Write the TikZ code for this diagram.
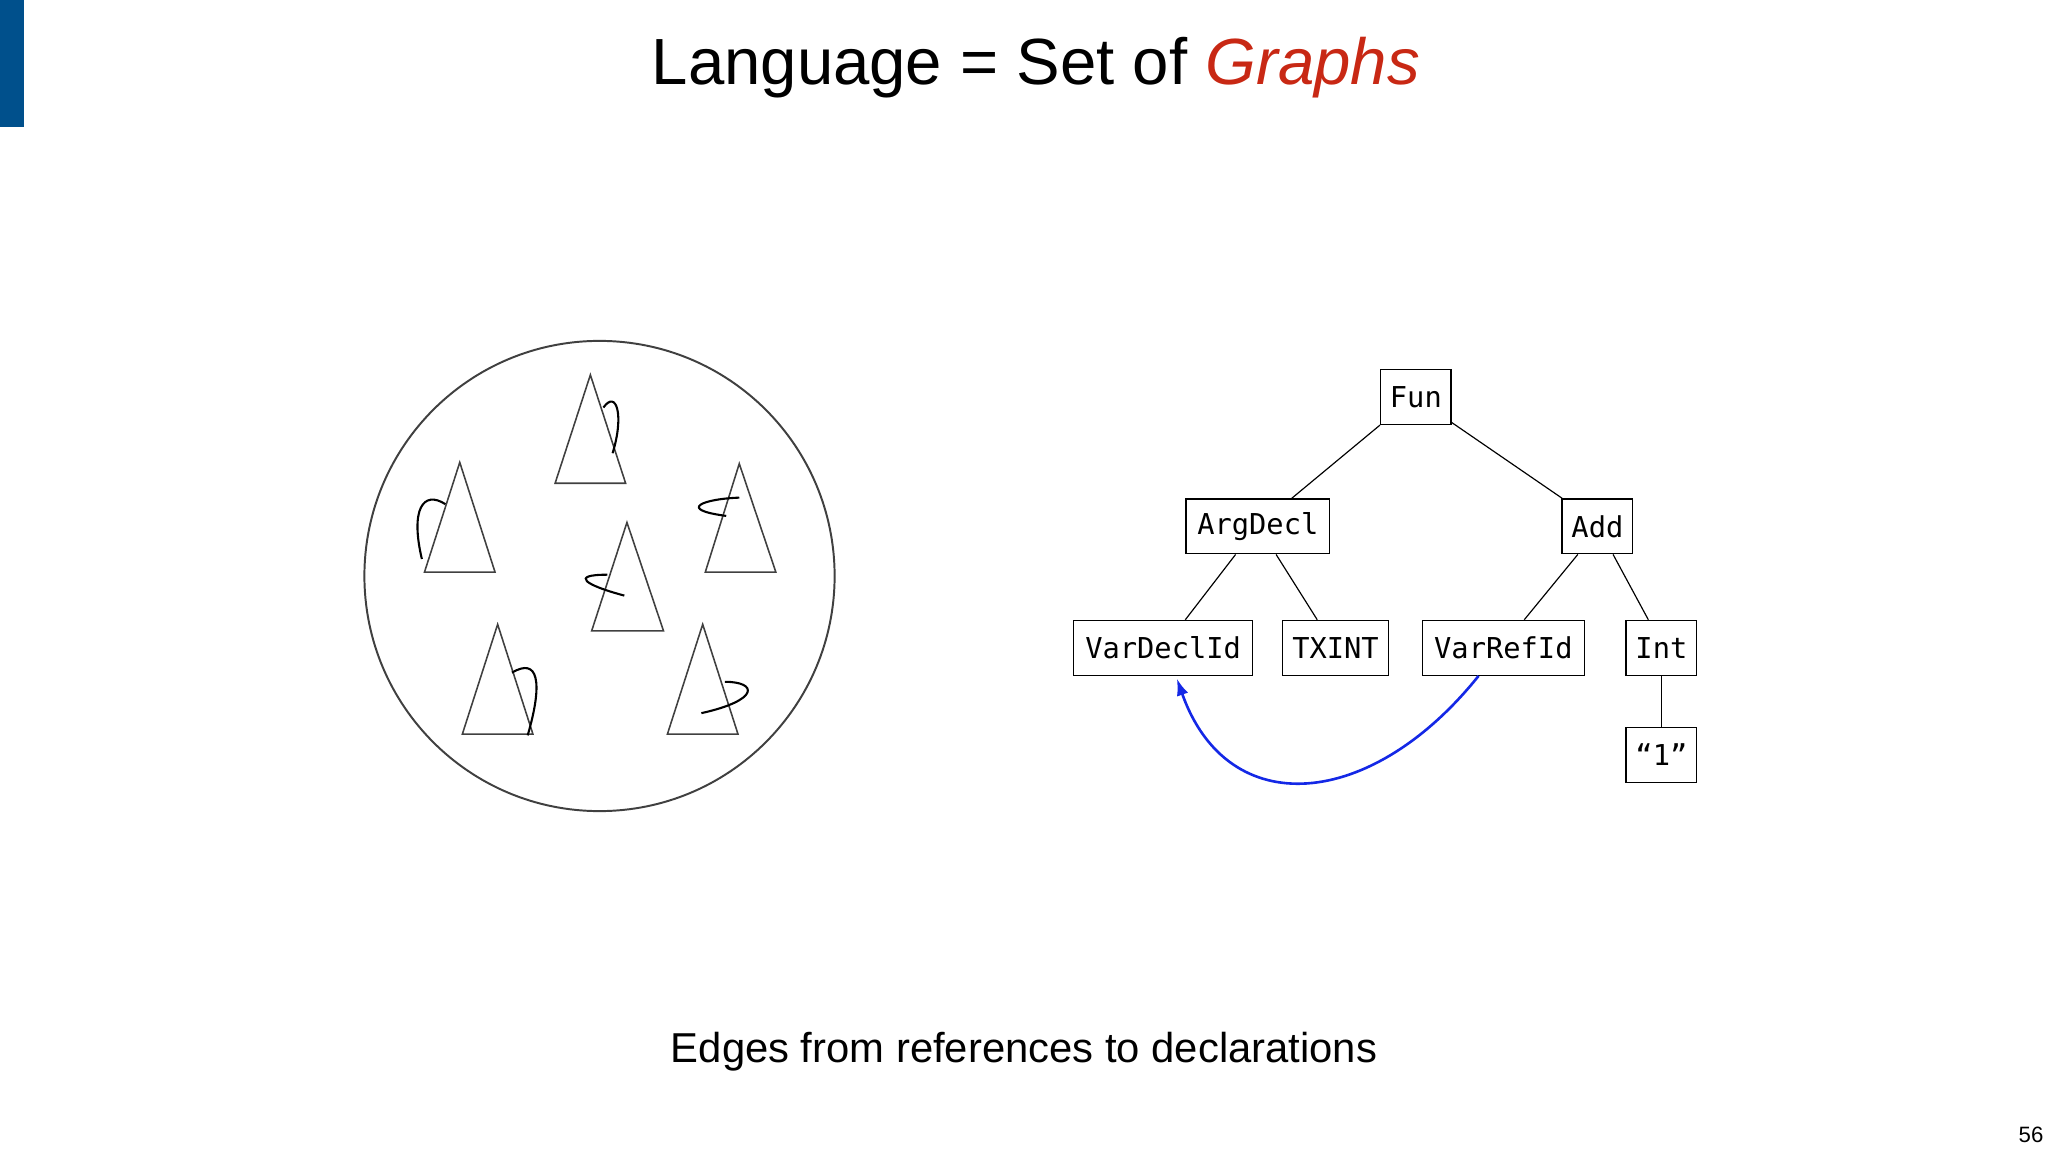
\documentclass[tikz,border=0pt]{standalone}
\usepackage{fontspec}
\setmainfont{Liberation Sans}
\newfontfamily\monof{DejaVu Sans Mono}
\usetikzlibrary{calc,arrows.meta}
\definecolor{barblue}{RGB}{0,80,140}
\definecolor{titlered}{RGB}{200,40,20}
\definecolor{arrblue}{RGB}{20,40,230}
\begin{document}
\begin{tikzpicture}[x=1pt,y=-1pt,
  tbox/.style={draw,line width=1pt,minimum height=42pt,inner xsep=6pt,font=\monof\fontsize{22}{24}\selectfont},
  tri/.style={draw=black!75,line width=1.2pt},
  squig/.style={draw,line width=1.6pt},
  edge/.style={line width=0.9pt}]
\useasboundingbox (0,0) rectangle (1568,882);
\fill[barblue] (0,0) rectangle (18,97);
\node (title) at (793,52) {\fontsize{50}{56}\selectfont Language = Set of \textcolor{titlered}{\itshape Graphs}};
% circle
\draw[black!75,line width=1.5pt] (459,441) circle (180);
\draw[tri] (452,287) -- (425,370) -- (479,370) -- cycle;
\draw[tri] (352,354) -- (325,438) -- (379,438) -- cycle;
\draw[tri] (566,355) -- (540,438) -- (594,438) -- cycle;
\draw[tri] (480,400) -- (453,483) -- (508,483) -- cycle;
\draw[tri] (381,478) -- (354,562) -- (408,562) -- cycle;
\draw[tri] (538,478) -- (511,562) -- (565,562) -- cycle;
\draw[squig] (462,312) .. controls (472,298) and (478,318) .. (469,347);
\draw[squig] (323,428) .. controls (314,390) and (324,375) .. (341,386);
\draw[squig] (566,381) .. controls (538,382) and (518,390) .. (556,395);
\draw[squig] (478,456) .. controls (448,448) and (436,440) .. (465,440);
\draw[squig] (392,515) .. controls (412,503) and (416,522) .. (404,563);
\draw[squig] (537,546) .. controls (582,536) and (580,522) .. (555,522);
% tree
\node[tbox,minimum width=54pt] (fun) at (1084,304) {Fun};
\node[tbox,minimum width=110pt] (argdecl) at (963,403) {ArgDecl};
\node[tbox,minimum width=54pt] (add) at (1223,403) {Add};
\node[tbox,minimum width=137pt] (vardecl) at (890.5,496) {VarDeclId};
\node[tbox,minimum width=81pt] (txint) at (1022.5,496) {TXINT};
\node[tbox,minimum width=124pt] (varref) at (1151,496) {VarRefId};
\node[tbox,minimum width=54pt] (int) at (1272,496) {Int};
\node[tbox,minimum width=54pt] (one) at (1272,578) {“1”};
\draw[edge] (fun.south west) -- ($(argdecl.north)+(26,0)$);
\draw[edge] ($(fun.south east)+(0,-2)$) -- ($(add.north)+(-27,0)$);
\draw[edge] ($(argdecl.south)+(-17,0)$) -- ($(vardecl.north)+(17,0)$);
\draw[edge] ($(argdecl.south)+(14,0)$) -- ($(txint.north)+(-14,0)$);
\draw[edge] ($(add.south)+(-15,0)$) -- ($(varref.north)+(16,0)$);
\draw[edge] ($(add.south)+(12,0)$) -- ($(int.north)+(-10,0)$);
\draw[edge] (int) -- (one);
\draw[arrblue,line width=2pt,-{Latex[length=13pt,width=9pt]}] ($(varref.south)+(-19,0)$) .. controls (1050,620) and (940,630) .. ($(vardecl.south)+(10.5,2)$);
\node (sub) at (784,805) {\fontsize{32}{36}\selectfont Edges from references to declarations};
\node (pg) at (1555,869) {\fontsize{17}{19}\selectfont 56};
\end{tikzpicture}
\end{document}
